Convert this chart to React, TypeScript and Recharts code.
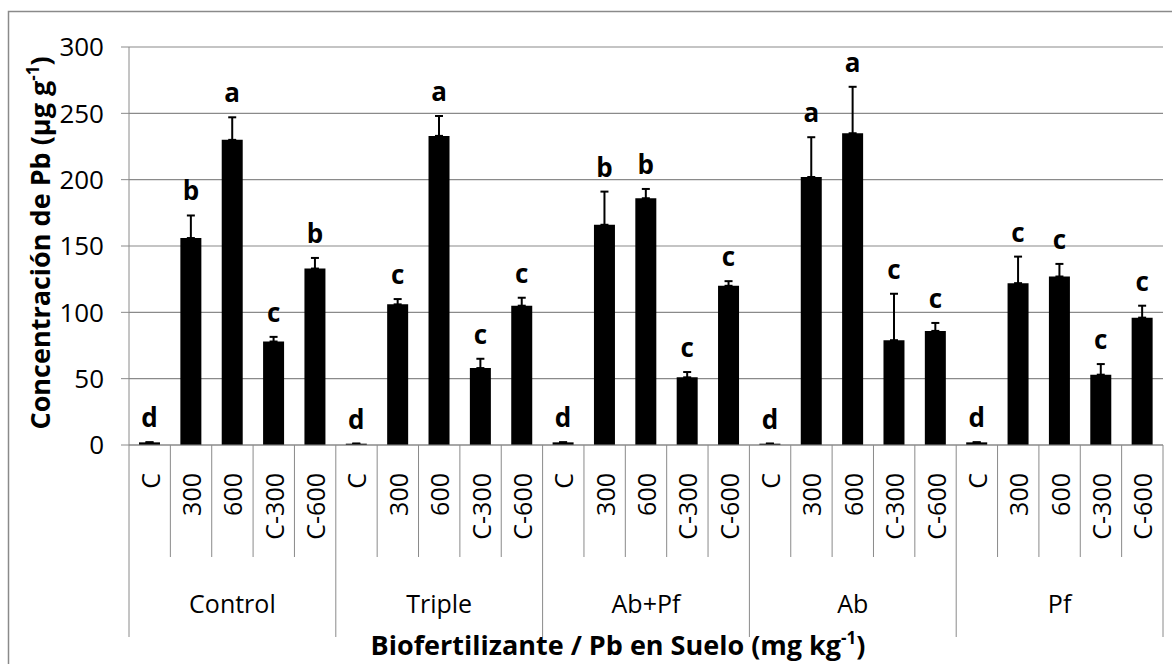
import React from 'react';
import { BarChart, Bar, XAxis, YAxis, CartesianGrid, ErrorBar, LabelList } from 'recharts';

const groups = ['Control', 'Triple', 'Ab+Pf', 'Ab', 'Pf'];
const doses = ['C', '300', '600', 'C-300', 'C-600'];
// Pb concentration (µg g-1), mean per treatment
const pbMean = [2, 156, 230, 78, 133, 1, 106, 233, 58, 105, 2, 166, 186, 51, 120, 1, 202, 235, 79, 86, 2, 122, 127, 53, 96];
// standard error (upper bar only)
const pbSE = [0, 17, 17, 3.5, 8, 0, 4, 15, 7, 6, 0, 25, 7, 4, 3.5, 0, 30, 35, 35, 6, 0, 20, 9.5, 8, 9];
const letters = ['d', 'b', 'a', 'c', 'b', 'd', 'c', 'a', 'c', 'c', 'd', 'b', 'b', 'c', 'c', 'd', 'a', 'a', 'c', 'c', 'd', 'c', 'c', 'c', 'c'];
const yTicks = [0, 50, 100, 150, 200, 250, 300];

const data = pbMean.map((v, i) => ({
  key: `${groups[Math.floor(i / 5)]} ${doses[i % 5]}`,
  dose: doses[i % 5],
  group: groups[Math.floor(i / 5)],
  pb: v,
  se: [0, pbSE[i]],
  letter: letters[i],
}));

const W = 1172;
const H = 664;
const PLOT_L = 129;
const PLOT_R = 1163;
const PLOT_T = 47;
const AXIS_Y = 445;
const BAND = (PLOT_R - PLOT_L) / data.length;
const PX = (AXIS_Y - PLOT_T) / 300;
const FONT = '"Open Sans", sans-serif';
const GRID = '#8a8a8a';

const CatTick = (props: any) => {
  const { x, y, index } = props;
  const d = data[index];
  const left = x - BAND / 2;
  const isGroupStart = index % 5 === 0;
  return (
    <g>
      <line x1={left} y1={y} x2={left} y2={isGroupStart ? 637 : 557} stroke={GRID} strokeWidth={1} />
      {index === data.length - 1 && (
        <line x1={x + BAND / 2} y1={y} x2={x + BAND / 2} y2={637} stroke={GRID} strokeWidth={1} />
      )}
      <text
        transform={`translate(${x + 1},${473}) rotate(-90)`}
        textAnchor="end"
        dy="0.36em"
        fontSize={25}
        fontFamily={FONT}
        fill="#000"
      >
        {d.dose}
      </text>
      {index % 5 === 2 && (
        <text x={x} y={613} textAnchor="middle" fontSize={25} fontFamily={FONT} fill="#000">
          {d.group}
        </text>
      )}
    </g>
  );
};

const LetterLabel = (props: any) => {
  const { x, y, width, value, index } = props;
  const top = y - pbSE[index] * PX;
  return (
    <text x={x + width / 2} y={top - 15} textAnchor="middle" fontSize={26} fontWeight="bold" fontFamily={FONT} fill="#000">
      {value}
    </text>
  );
};

export default function App() {
  return (
    <div style={{ position: 'absolute', left: 0, top: 0, width: W, height: H, background: '#fff' }}>
      <BarChart width={W} height={H} data={data} margin={{ top: PLOT_T, right: W - PLOT_R, left: 0, bottom: 0 }}>
        <CartesianGrid vertical={false} stroke={GRID} strokeWidth={1.2} />
        <YAxis
          domain={[0, 300]}
          ticks={yTicks}
          width={PLOT_L}
          tickSize={8}
          tickMargin={17}
          axisLine={{ stroke: GRID }}
          tickLine={{ stroke: GRID }}
          tick={{ fontSize: 26, fill: '#000', fontFamily: FONT }}
        />
        <XAxis
          dataKey="key"
          height={H - AXIS_Y}
          interval={0}
          tickSize={0}
          tickMargin={0}
          axisLine={{ stroke: GRID }}
          tickLine={false}
          tick={<CatTick />}
        />
        <Bar dataKey="pb" fill="#000" barSize={21} isAnimationActive={false}>
          <ErrorBar dataKey="se" direction="y" width={4} stroke="#000" strokeWidth={2} isAnimationActive={false} />
          <LabelList dataKey="letter" content={<LetterLabel />} />
        </Bar>
      </BarChart>
      <svg width={W} height={H} style={{ position: 'absolute', left: 0, top: 0, pointerEvents: 'none' }}>
        <rect x={8.5} y={11.5} width={W} height={H} fill="none" stroke={GRID} strokeWidth={1.5} />
        <text
          transform={`translate(50,243) rotate(-90)`}
          textAnchor="middle"
          fontSize={27}
          fontWeight="bold"
          fontFamily={FONT}
          fill="#000"
        >
          Concentración de Pb (µg g<tspan dy={-11} fontSize={17}>-1</tspan>
          <tspan dy={11}>)</tspan>
        </text>
        <text x={618} y={655} textAnchor="middle" fontSize={27} fontWeight="bold" fontFamily={FONT} fill="#000">
          Biofertilizante / Pb en Suelo (mg kg<tspan dy={-11} fontSize={17}>-1</tspan>
          <tspan dy={11}>)</tspan>
        </text>
      </svg>
    </div>
  );
}
